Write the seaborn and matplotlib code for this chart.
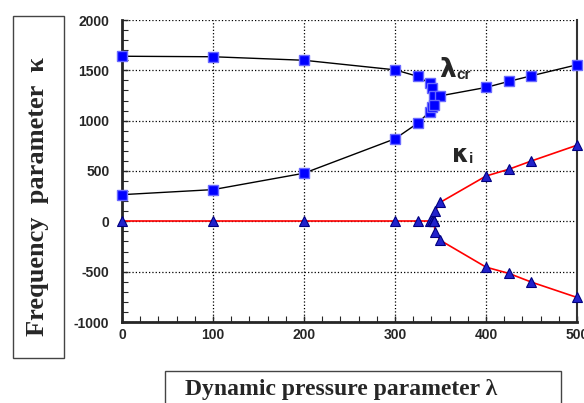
import pandas as pd
import matplotlib
matplotlib.use("Agg")
import matplotlib.pyplot as plt
from matplotlib.patches import Rectangle
from matplotlib.ticker import MultipleLocator
import seaborn as sns

# lambda_cr branches (blue squares)
lam_upper = [0, 100, 200, 300, 325, 338, 341, 343, 350, 400, 425, 450, 500]
kap_upper = [1640, 1635, 1600, 1505, 1440, 1370, 1320, 1247, 1247, 1330, 1390, 1446, 1555]
lam_lower = [0, 100, 200, 300, 325, 338, 341, 343]
kap_lower = [265, 315, 478, 820, 975, 1088, 1131, 1154]

# kappa_i branches (red line, triangles)
lam_zero = [0, 100, 200, 300, 325, 338, 341, 343]
kap_zero = [0, 0, 0, 0, 0, 0, 0, 0]
lam_split = [343, 344, 350, 400, 425, 450, 500]
kap_pos = [0, 103, 190, 450, 517, 600, 756]
kap_neg = [0, -110, -190, -455, -517, -604, -756]

xticks = [0, 100, 200, 300, 400, 500]
yticks = [-1000, -500, 0, 500, 1000, 1500, 2000]

sns.set_style("ticks")
plt.rcParams['font.family'] = ['Liberation Sans', 'DejaVu Sans']
plt.rcParams['axes.unicode_minus'] = False

fig = plt.figure(figsize=(5.84, 4.03), dpi=100)
ax = fig.add_axes([122 / 584, 1 - 322 / 403, 455 / 584, 302 / 403])

sq = dict(marker='s', markersize=7, markerfacecolor='#0000ff', markeredgecolor='#6a6aff',
          markeredgewidth=1.0, color='black', linewidth=1.0, clip_on=False, zorder=4)
tri = dict(marker='^', markersize=7, markerfacecolor='#2222cc', markeredgecolor='#000080',
           markeredgewidth=0.8, color='#ff0000', linewidth=1.2, clip_on=False, zorder=3)

df_up = pd.DataFrame({'lam': lam_upper, 'kap': kap_upper})
df_lo = pd.DataFrame({'lam': lam_lower, 'kap': kap_lower})
sns.lineplot(data=df_up, x='lam', y='kap', sort=False, estimator=None, ax=ax, **sq)
sns.lineplot(data=df_lo, x='lam', y='kap', sort=False, estimator=None, ax=ax, **sq)

df_zero = pd.DataFrame({'lam': lam_zero, 'kap': kap_zero})
df_pos = pd.DataFrame({'lam': lam_split, 'kap': kap_pos})
df_neg = pd.DataFrame({'lam': lam_split, 'kap': kap_neg})
for d in (df_zero, df_pos, df_neg):
    sns.lineplot(data=d, x='lam', y='kap', sort=False, estimator=None, ax=ax, **tri)

ax.set_xlim(0, 500)
ax.set_ylim(-1000, 2000)
ax.set_xticks(xticks)
ax.set_yticks(yticks)
ax.xaxis.set_minor_locator(MultipleLocator(20))
ax.yaxis.set_minor_locator(MultipleLocator(100))
ax.tick_params(which='both', direction='in', top=False, right=False)
ax.tick_params(which='major', length=4, width=1)
ax.tick_params(which='minor', length=4, width=0.8)
ax.tick_params(axis='y', pad=9)
ax.tick_params(axis='x', pad=4)
for lbl in ax.get_xticklabels() + ax.get_yticklabels():
    lbl.set_fontweight('bold')
    lbl.set_fontsize(10)

ax.grid(True, which='major', color='black', linestyle=':', linewidth=0.9)
ax.set_axisbelow(True)
ax.spines['top'].set_visible(False)
ax.spines['left'].set_linewidth(2)
ax.spines['bottom'].set_linewidth(2)
ax.spines['right'].set_linewidth(1.5)
ax.spines['right'].set_color('#333333')
ax.set_xlabel('')
ax.set_ylabel('')

# curve labels
ax.text(348, 1370, 'λ', fontsize=19, fontweight='bold', family='DejaVu Sans', va='bottom', ha='left')
ax.text(367, 1380, 'cr', fontsize=11, fontweight='bold', va='bottom', ha='left')
ax.text(363, 540, 'κ', fontsize=17, fontweight='bold', family='DejaVu Sans', va='bottom', ha='left')
ax.text(381, 550, 'i', fontsize=11, fontweight='bold', va='bottom', ha='left')

# boxed axis titles
fig.patches.append(Rectangle((13 / 584, 1 - 358 / 403), 51 / 584, 342 / 403,
                             transform=fig.transFigure, fill=False, edgecolor='#444444', linewidth=1))
fig.text(38 / 584, 1 - 197 / 403, 'Frequency  parameter  κ', rotation=90, ha='center', va='center',
         fontsize=19, fontweight='bold', family=['Liberation Serif', 'DejaVu Serif'])
fig.patches.append(Rectangle((165 / 584, -0.05), 396 / 584, 0.05 + 1 - 371 / 403,
                             transform=fig.transFigure, fill=False, edgecolor='#444444', linewidth=1))
fig.text(341 / 584, 1 - 389 / 403, 'Dynamic pressure parameter λ', ha='center', va='center',
         fontsize=17, fontweight='bold', family=['Liberation Serif', 'DejaVu Serif'])

fig.savefig('out.png', dpi=100)
